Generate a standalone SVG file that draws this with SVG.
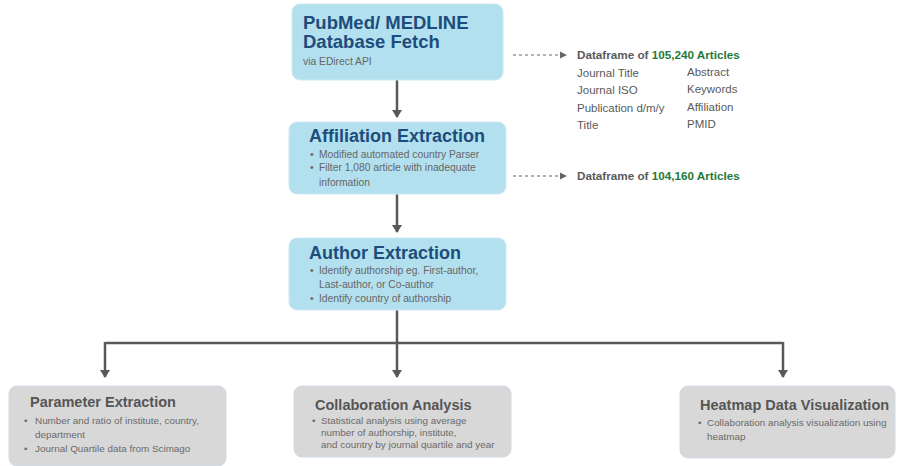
<svg xmlns="http://www.w3.org/2000/svg" width="897" height="466" viewBox="0 0 897 466">
<style>
text{font-family:"Liberation Sans",Arial,sans-serif}
.bbox{fill:#b3e0ee;stroke:#cde9f2;stroke-width:1}
.gbox{fill:#d8d8d8;stroke:#d0dae6;stroke-width:1}
.bt{font-weight:bold;fill:#1d4d7c}
.gt{font-weight:bold;fill:#555;font-size:14.5px}
.sm{fill:#666;font-size:10.3px}
.gs{fill:#6a6a6a;font-size:9.9px}
.df{font-size:11.5px;fill:#5a5a5a}
.dfb{font-size:11.7px;font-weight:bold;fill:#5a5a5a}
.grn{fill:#1f7a3c}
.ln{stroke:#595959;stroke-width:2.5;fill:none}
.dash{stroke:#666;stroke-width:1.2;stroke-dasharray:3 3;fill:none}
</style>
<defs>
<marker id="ah" markerWidth="10" markerHeight="10" refX="7" refY="5" orient="auto" markerUnits="userSpaceOnUse"><path d="M0,0 L8,5 L0,10 Z" fill="#595959"/></marker>
<marker id="ahs" markerWidth="8" markerHeight="8" refX="6" refY="4" orient="auto" markerUnits="userSpaceOnUse"><path d="M0,0.5 L7,4 L0,7.5 Z" fill="#666"/></marker>
</defs>
<g id="connectors">
<path class="ln" d="M397,80 V117" marker-end="url(#ah)"/>
<path class="ln" d="M397,194 V232" marker-end="url(#ah)"/>
<path class="ln" d="M397,310 V343"/>
<path class="ln" d="M105,343 H783"/>
<path class="ln" d="M105,342 V377" marker-end="url(#ah)"/>
<path class="ln" d="M397,343 V377" marker-end="url(#ah)"/>
<path class="ln" d="M783,342 V377" marker-end="url(#ah)"/>
<path class="dash" d="M513,55 H566" marker-end="url(#ahs)"/>
<path class="dash" d="M513,176 H566" marker-end="url(#ahs)"/>
</g>
<g id="pubmed">
<rect class="bbox" x="292" y="4" width="211" height="76" rx="8"/>
<text class="bt" x="303" y="29" font-size="18.5">PubMed/ MEDLINE</text>
<text class="bt" x="303" y="48" font-size="18.5">Database Fetch</text>
<text class="sm" x="303" y="65" font-size="9.4">via EDirect API</text>
</g>
<g id="affiliation">
<rect class="bbox" x="289" y="122" width="217" height="72" rx="8"/>
<text class="bt" x="309" y="142" font-size="18">Affiliation Extraction</text>
<text class="sm" x="310" y="158">•</text><text class="sm" x="319" y="158">Modified automated country Parser</text>
<text class="sm" x="310" y="171">•</text><text class="sm" x="319" y="171">Filter 1,080 article with inadequate</text>
<text class="sm" x="319" y="186">information</text>
</g>
<g id="author">
<rect class="bbox" x="289" y="238" width="217" height="72" rx="8"/>
<text class="bt" x="309" y="259" font-size="18">Author Extraction</text>
<text class="sm" x="310" y="274">•</text><text class="sm" x="319" y="274">Identify authorship eg. First-author,</text>
<text class="sm" x="319" y="288">Last-author, or Co-author</text>
<text class="sm" x="310" y="302">•</text><text class="sm" x="319" y="302">Identify country of authorship</text>
</g>
<g id="df1">
<text class="dfb" x="577" y="59">Dataframe of <tspan class="grn">105,240 Articles</tspan></text>
<text class="df" x="577" y="77">Journal Title</text>
<text class="df" x="577" y="94">Journal ISO</text>
<text class="df" x="577" y="112">Publication d/m/y</text>
<text class="df" x="577" y="129">Title</text>
<text class="df" x="687" y="76">Abstract</text>
<text class="df" x="687" y="93">Keywords</text>
<text class="df" x="687" y="111">Affiliation</text>
<text class="df" x="687" y="128">PMID</text>
</g>
<g id="df2">
<text class="dfb" x="577" y="180">Dataframe of <tspan class="grn">104,160 Articles</tspan></text>
</g>
<g id="parameter">
<rect class="gbox" x="9" y="386" width="217" height="80" rx="8"/>
<text class="gt" x="30" y="407">Parameter Extraction</text>
<text class="gs" x="24" y="424">•</text><text class="gs" x="35" y="424">Number and ratio of institute, country,</text>
<text class="gs" x="35" y="438">department</text>
<text class="gs" x="24" y="452">•</text><text class="gs" x="35" y="452">Journal Quartile data from Scimago</text>
</g>
<g id="collaboration">
<rect class="gbox" x="294" y="386" width="217" height="71" rx="8"/>
<text class="gt" x="315" y="410">Collaboration Analysis</text>
<text class="gs" x="312" y="424">•</text><text class="gs" x="321" y="424">Statistical analysis using average</text>
<text class="gs" x="321" y="436">number of authorship, institute,</text>
<text class="gs" x="321" y="448">and country by journal quartile and year</text>
</g>
<g id="heatmap">
<rect class="gbox" x="680" y="386" width="215" height="72" rx="8"/>
<text class="gt" x="700" y="410">Heatmap Data Visualization</text>
<text class="gs" x="698" y="426">•</text><text class="gs" x="707" y="426">Collaboration analysis visualization using</text>
<text class="gs" x="707" y="440">heatmap</text>
</g>
</svg>
